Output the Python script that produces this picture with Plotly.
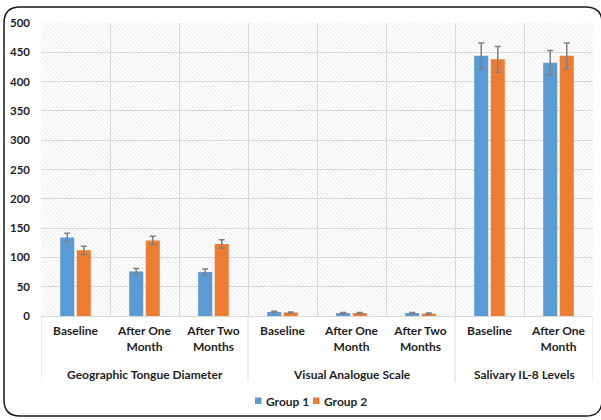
import plotly.graph_objects as go

# Outcome groups, time points and the two study groups
group_names = ["Geographic Tongue Diameter", "Visual Analogue Scale", "Salivary IL-8 Levels"]
group_sizes = [3, 3, 2]
timepoints = ["Baseline", "After One<br>Month", "After Two<br>Months",
              "Baseline", "After One<br>Month", "After Two<br>Months",
              "Baseline", "After One<br>Month"]

group1_mean = [134, 76, 75, 7, 5, 5, 444, 432]
group1_err = [7, 5, 5, 1, 1, 1, 22, 21]
group2_mean = [112, 129, 123, 6, 5, 4, 438, 444]
group2_err = [7, 7, 7, 1, 1, 1, 22, 22]

series_names = ["Group 1", "Group 2"]
y_ticks = list(range(0, 501, 50))

FONT = "Lato"
TEXT = "#1f1f1f"
BLUE = "#5B9BD5"
ORANGE = "#ED7D31"
GRID = "#d9d9d9"

n = len(timepoints)
xpos = list(range(n))
boundaries = [i - 0.5 for i in range(n + 1)]

fig = go.Figure()

# Hatched plot-area background on the base (hidden) axes
fig.add_trace(go.Scatter(
    x=[0, 1, 1, 0, 0], y=[0, 0, 1, 1, 0], xaxis="x", yaxis="y",
    mode="lines", line=dict(width=0), fill="toself",
    fillcolor="rgba(0,0,0,0)",
    fillpattern=dict(shape="\\", fgcolor="#d4d4d4", bgcolor="rgba(255,255,255,0)",
                     size=3, solidity=0.3),
    hoverinfo="skip", showlegend=False,
))

err_style = dict(type="data", color="#808080", thickness=1.5, width=3)

for name, mean, err, color in [(series_names[0], group1_mean, group1_err, BLUE),
                               (series_names[1], group2_mean, group2_err, ORANGE)]:
    fig.add_trace(go.Bar(
        name=name, x=xpos, y=mean,
        error_y=dict(array=err, **err_style),
        marker=dict(color=color, line=dict(width=0)),
        xaxis="x2", yaxis="y2", showlegend=False,
    ))

L, R, T, B = 41, 8, 23, 104
W, H = 601, 420
pw, ph = W - L - R, H - T - B

def px(xp):
    return (xp - L) / pw

def py(yp):
    return (H - B - yp) / ph

shapes = []
annotations = []

# Group dividers running down through the label area, and group titles
start = 0
edges = [boundaries[0]]
for gname, size in zip(group_names, group_sizes):
    centre = start + (size - 1) / 2
    annotations.append(dict(
        text=gname, x=centre, xref="x2", y=py(374), yref="paper",
        xanchor="center", yanchor="middle", showarrow=False,
        font=dict(family=FONT, size=12, color=TEXT, weight="bold"),
    ))
    start += size
    edges.append(boundaries[start])
for e in edges:
    shapes.append(dict(type="line", xref="x2", yref="paper", x0=e, x1=e,
                       y0=0, y1=py(382), line=dict(color=GRID, width=1), layer="below"))

# Legend: colour keys and labels
legend_items = [(series_names[0], BLUE, 255), (series_names[1], ORANGE, 313)]
for name, color, lx in legend_items:
    shapes.append(dict(type="rect", xref="paper", yref="paper",
                       x0=px(lx), x1=px(lx + 6.5), y0=py(404), y1=py(397.5),
                       fillcolor=color, line=dict(width=0)))
    annotations.append(dict(
        text=name, x=px(lx + 8.5), y=py(401), xref="paper", yref="paper",
        xanchor="left", yanchor="middle", showarrow=False,
        font=dict(family=FONT, size=12, color=TEXT, weight="bold"),
    ))

# Rounded outer frame
x0, x1, y0, y1, r = 4, 602, 7, 416, 16
frame = (f"M {px(x0)},{py(y0 + r)} Q {px(x0)},{py(y0)} {px(x0 + r)},{py(y0)} "
         f"L {px(x1 - r)},{py(y0)} Q {px(x1)},{py(y0)} {px(x1)},{py(y0 + r)} "
         f"L {px(x1)},{py(y1 - r)} Q {px(x1)},{py(y1)} {px(x1 - r)},{py(y1)} "
         f"L {px(x0 + r)},{py(y1)} Q {px(x0)},{py(y1)} {px(x0)},{py(y1 - r)} Z")
shapes.append(dict(type="path", xref="paper", yref="paper", path=frame,
                   line=dict(color="#1a1a1a", width=1.5), layer="above"))

fig.update_layout(
    width=W, height=H,
    margin=dict(l=L, r=R, t=T, b=B, pad=0, autoexpand=False),
    paper_bgcolor="white", plot_bgcolor="white",
    font=dict(family=FONT, size=12, color=TEXT, weight="bold"),
    barmode="group", bargap=0.52, bargroupgap=0.15,
    showlegend=False,
    xaxis=dict(range=[0, 1], visible=False, fixedrange=True, automargin=False),
    yaxis=dict(range=[0, 1], visible=False, fixedrange=True, automargin=False),
    xaxis2=dict(overlaying="x", range=[boundaries[0], boundaries[-1]],
                tickvals=xpos, ticktext=timepoints, automargin=False,
                showgrid=False, zeroline=False,
                minor=dict(tickvals=boundaries, showgrid=True, gridcolor=GRID,
                           gridwidth=1, ticks=""),
                showline=True, linecolor=GRID, linewidth=1,
                ticks="outside", ticklen=4, tickcolor="rgba(0,0,0,0)",
                tickfont=dict(family=FONT, size=12, color=TEXT, weight="bold")),
    yaxis2=dict(overlaying="y", side="left", range=[0, 500], tickvals=y_ticks,
                automargin=False,
                showgrid=True, gridcolor=GRID, gridwidth=1,
                zeroline=True, zerolinecolor=GRID, zerolinewidth=1,
                ticks="", ticklabelstandoff=10,
                tickfont=dict(family=FONT, size=11.5, color=TEXT, weight="bold")),
    shapes=shapes,
    annotations=annotations,
)

fig.write_html("out.html")
